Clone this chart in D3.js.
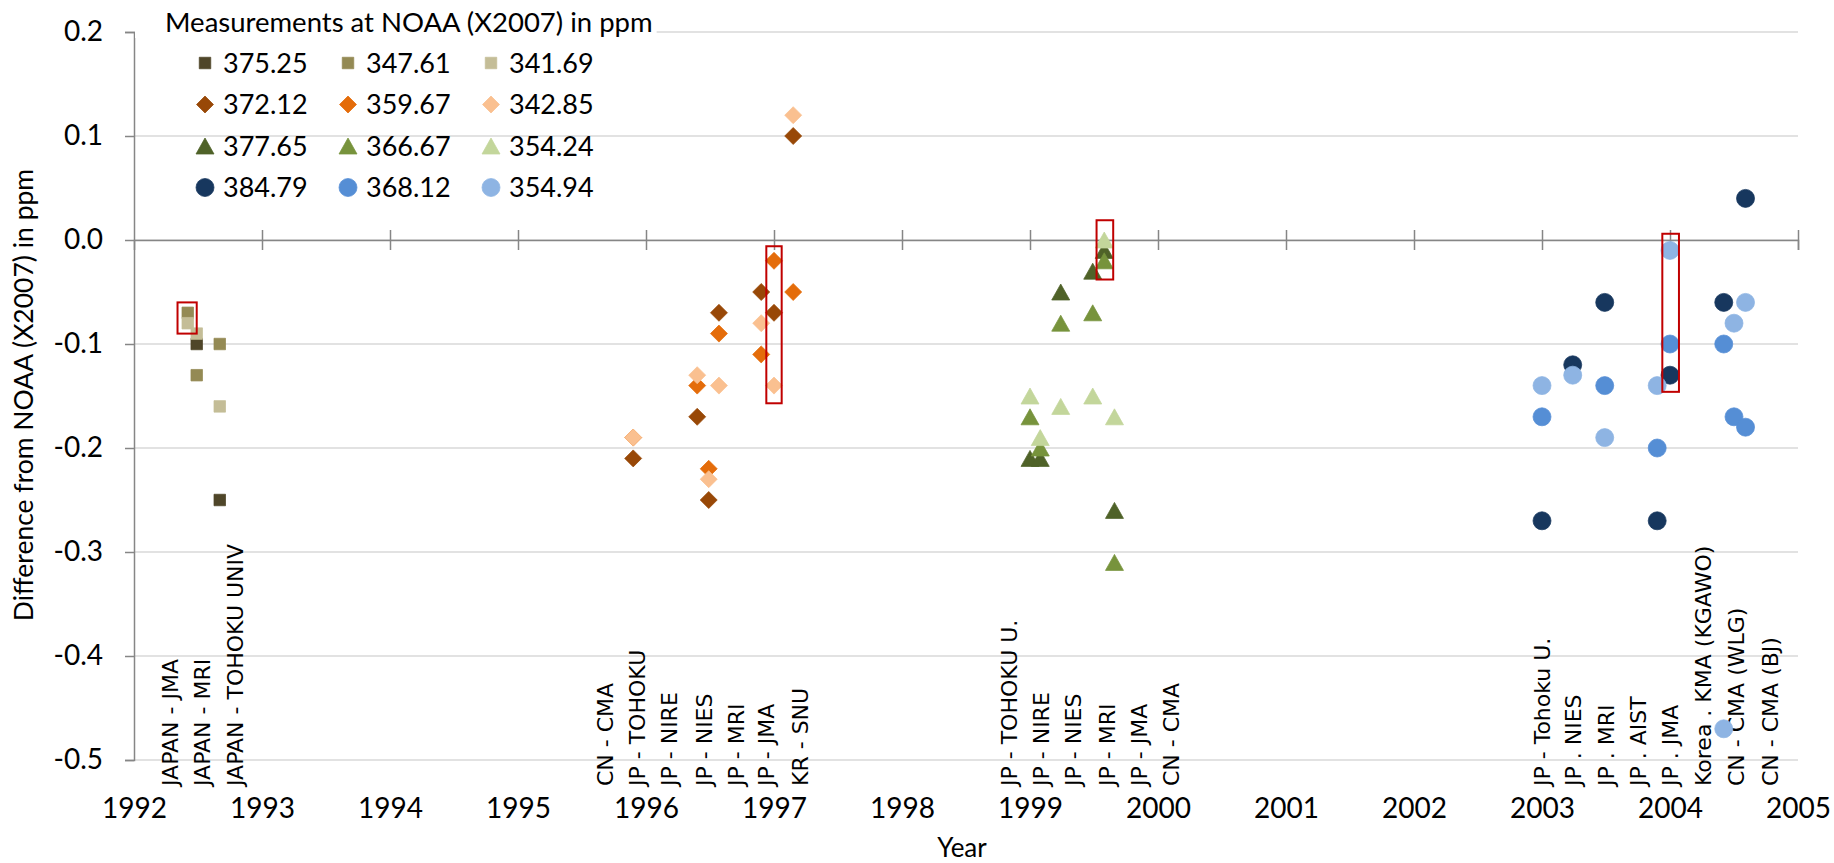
<!DOCTYPE html>
<html lang="en">
<head>
<meta charset="UTF-8">
<title>Difference from NOAA (X2007)</title>
<script src="https://cdn.jsdelivr.net/npm/d3@7"></script>
<style>
  body { margin: 0; background: #fff; }
  svg { display: block; }
  .tick text { font-family: Lato, sans-serif; fill: #000; }
</style>
</head>
<body>
<svg id="chart" width="1834" height="863"></svg>
<script>
// ---- data (decimal years / ppm differences) ----
var datesRound1 = [1992.42, 1992.49, 1992.67];
var datesRound2 = [1995.90, 1996.40, 1996.49, 1996.57, 1996.90, 1997.00, 1997.15];
var datesRound3 = [1999.00, 1999.08, 1999.24, 1999.49, 1999.58, 1999.66];
var datesRound4 = [2003.00, 2003.24, 2003.49, 2003.90, 2004.00, 2004.42, 2004.50, 2004.59];

var cyl37525 = [null, -0.10, -0.25];
var cyl34761 = [-0.07, -0.13, -0.10];
var cyl34169 = [-0.08, -0.09, -0.16];

var cyl37212 = [-0.21, -0.17, -0.25, -0.07, -0.05, -0.07, 0.10];
var cyl35967 = [-0.19, -0.14, -0.22, -0.09, -0.11, -0.02, -0.05];
var cyl34285 = [-0.19, -0.13, -0.23, -0.14, -0.08, -0.14, 0.12];

var cyl37765 = [-0.21, -0.21, -0.05, -0.03, -0.01, -0.26];
var cyl36667 = [-0.17, -0.20, -0.08, -0.07, -0.02, -0.31];
var cyl35424 = [-0.15, -0.19, -0.16, -0.15, 0.00, -0.17];

var cyl38479 = [-0.27, -0.12, -0.06, -0.27, -0.13, -0.06, null, 0.04];
var cyl36812 = [-0.17, null, -0.14, -0.20, -0.10, -0.10, -0.17, -0.18];
var cyl35494 = [-0.14, -0.13, -0.19, -0.14, -0.01, -0.47, -0.08, -0.06];

var labNames = ["JAPAN - JMA", "JAPAN - MRI", "JAPAN - TOHOKU UNIV",
  "CN - CMA", "JP - TOHOKU", "JP - NIRE", "JP - NIES", "JP - MRI", "JP - JMA", "KR - SNU",
  "JP - TOHOKU U.", "JP - NIRE", "JP - NIES", "JP - MRI", "JP - JMA", "CN - CMA",
  "JP - Tohoku U.", "JP . NIES", "JP . MRI", "JP . AIST", "JP . JMA", "Korea . KMA (KGAWO)", "CN - CMA (WLG)", "CN - CMA (BJ)"];
var labPositions = [1992.28, 1992.53, 1992.79,
  1995.68, 1995.93, 1996.18, 1996.45, 1996.70, 1996.94, 1997.20,
  1998.84, 1999.09, 1999.34, 1999.60, 1999.85, 2000.10,
  2003.00, 2003.24, 2003.50, 2003.75, 2004.00, 2004.26, 2004.52, 2004.78];

// JMA highlight boxes: [year from, year to, top, bottom]
var jmaBoxes = [[1992.34, 1992.49, -0.06, -0.09],
                [1996.94, 1997.06, -0.006, -0.157],
                [1999.52, 1999.65, 0.019, -0.038],
                [2003.94, 2004.07, 0.006, -0.146]];

var yearTicks = d3.range(1992, 2006);
var yTicks = [0.2, 0.1, 0.0, -0.1, -0.2, -0.3, -0.4, -0.5];

var series = [
  {name: "375.25", shape: "square",   color: "#4f4629", dates: datesRound1, values: cyl37525},
  {name: "347.61", shape: "square",   color: "#948a54", dates: datesRound1, values: cyl34761},
  {name: "341.69", shape: "square",   color: "#c4bd97", dates: datesRound1, values: cyl34169},
  {name: "372.12", shape: "diamond",  color: "#984807", dates: datesRound2, values: cyl37212},
  {name: "359.67", shape: "diamond",  color: "#e46c0a", dates: datesRound2, values: cyl35967},
  {name: "342.85", shape: "diamond",  color: "#fac090", dates: datesRound2, values: cyl34285},
  {name: "377.65", shape: "triangle", color: "#4f6228", dates: datesRound3, values: cyl37765},
  {name: "366.67", shape: "triangle", color: "#77933c", dates: datesRound3, values: cyl36667},
  {name: "354.24", shape: "triangle", color: "#c3d69b", dates: datesRound3, values: cyl35424},
  {name: "384.79", shape: "circle",   color: "#17375e", dates: datesRound4, values: cyl38479},
  {name: "368.12", shape: "circle",   color: "#558ed5", dates: datesRound4, values: cyl36812},
  {name: "354.94", shape: "circle",   color: "#8eb4e3", dates: datesRound4, values: cyl35494}
];

// ---- layout ----
var svg = d3.select("#chart");
var plotLeft = 134, plotRight = 1798, plotTop = 32, plotBottom = 760;

var x = d3.scaleLinear().domain([1992, 2005]).range([plotLeft, plotRight]);
var y = d3.scaleLinear().domain([-0.5, 0.2]).range([plotBottom, plotTop]);

var shapes = {
  square: "M-5.75,-5.75h11.5v11.5h-11.5Z",
  diamond: "M0,-8.5L8.5,0L0,8.5L-8.5,0Z",
  triangle: "M0,-8L9,8L-9,8Z",
  circle: "M9,0A9,9 0 1,1 -9,0A9,9 0 1,1 9,0Z"
};

// gridlines
svg.append("g")
  .selectAll("line")
  .data(yTicks)
  .enter().append("line")
  .attr("x1", plotLeft).attr("x2", plotRight)
  .attr("y1", d => y(d)).attr("y2", d => y(d))
  .attr("stroke", "#d9d9d9")
  .attr("stroke-width", 1.5);

// y axis
var yAxis = svg.append("g")
  .attr("transform", "translate(" + plotLeft + ",0)")
  .call(d3.axisLeft(y).tickValues(yTicks).tickSize(9).tickPadding(22)
    .tickFormat(d => d.toFixed(1)));
yAxis.select(".domain").attr("stroke", "#868686").attr("stroke-width", 1.5);
yAxis.selectAll(".tick line").attr("stroke", "#868686").attr("stroke-width", 1.5);
yAxis.selectAll(".tick text").style("font-size", "28px");

// horizontal axis through zero with cross ticks
var zeroAxis = svg.append("g")
  .attr("transform", "translate(0," + y(0) + ")")
  .call(d3.axisBottom(x).tickValues(yearTicks.slice(1)).tickSize(10).tickFormat(""));
zeroAxis.select(".domain").attr("stroke", "#868686").attr("stroke-width", 1.5);
zeroAxis.selectAll(".tick line").attr("y1", -10).attr("stroke", "#868686").attr("stroke-width", 1.5);

// year labels at the bottom
var yearAxis = svg.append("g")
  .attr("transform", "translate(0," + plotBottom + ")")
  .call(d3.axisBottom(x).tickValues(yearTicks).tickSize(0).tickPadding(38).tickFormat(d3.format("d")));
yearAxis.select(".domain").remove();
yearAxis.selectAll(".tick text").style("font-size", "28px");

// lab labels (rotated)
svg.append("g")
  .selectAll("text")
  .data(labNames)
  .enter().append("text")
  .attr("transform", (d, i) => "translate(" + x(labPositions[i]) + "," + (plotBottom + 26) + ") rotate(-90)")
  .attr("dy", "0.36em")
  .style("font-family", "'DejaVu Sans', sans-serif")
  .style("font-size", "22px")
  .text(d => d);

// points
series.forEach(function(s) {
  var pts = s.dates.map((d, i) => ({date: d, value: s.values[i]})).filter(p => p.value !== null);
  svg.append("g")
    .selectAll("path")
    .data(pts)
    .enter().append("path")
    .attr("d", shapes[s.shape])
    .attr("transform", p => "translate(" + x(p.date) + "," + y(p.value) + ")")
    .attr("fill", s.color)
    .attr("stroke", s.color)
    .attr("stroke-width", 0.75);
});

// JMA boxes
svg.append("g")
  .selectAll("rect")
  .data(jmaBoxes)
  .enter().append("rect")
  .attr("x", d => x(d[0]))
  .attr("width", d => x(d[1]) - x(d[0]))
  .attr("y", d => y(d[2]))
  .attr("height", d => y(d[3]) - y(d[2]))
  .attr("fill", "none")
  .attr("stroke", "#c00000")
  .attr("stroke-width", 2);

// legend
var legend = svg.append("g");
var legendTitle = legend.append("text")
  .attr("x", 165).attr("y", 32)
  .style("font-family", "Lato, sans-serif")
  .style("font-size", "27.5px")
  .text("Measurements at NOAA (X2007) in ppm");
var tw = legendTitle.node().getComputedTextLength();
legend.insert("rect", "text")
  .attr("x", plotLeft + 1).attr("y", 22).attr("width", 165 + tw + 4 - plotLeft - 1).attr("height", 16)
  .attr("fill", "#fff");

var items = legend.selectAll("g.item")
  .data(series)
  .enter().append("g")
  .attr("class", "item")
  .attr("transform", (d, i) => "translate(" + (205 + (i % 3) * 143) + "," + (63 + Math.floor(i / 3) * 41.5) + ")");
items.append("path")
  .attr("d", d => shapes[d.shape])
  .attr("fill", d => d.color)
  .attr("stroke", d => d.color)
  .attr("stroke-width", 0.75);
items.append("text")
  .attr("x", 18).attr("dy", "0.36em")
  .style("font-family", "Lato, sans-serif")
  .style("font-size", "27px")
  .text(d => d.name);

// axis titles
svg.append("text")
  .attr("transform", "translate(33,395) rotate(-90)")
  .attr("text-anchor", "middle")
  .style("font-family", "Lato, sans-serif")
  .style("font-size", "26.5px")
  .text("Difference from NOAA (X2007) in ppm");

svg.append("text")
  .attr("x", 962).attr("y", 857)
  .attr("text-anchor", "middle")
  .style("font-family", "Lato, sans-serif")
  .style("font-size", "26px")
  .text("Year");
</script>
</body>
</html>
